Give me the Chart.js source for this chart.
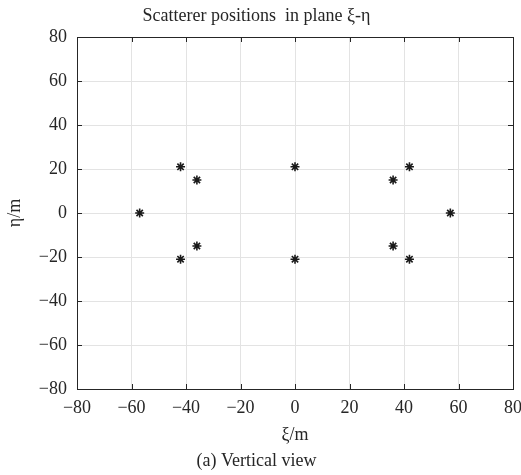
<!DOCTYPE html>
<html>
<head>
<meta charset="utf-8">
<script src="https://cdn.jsdelivr.net/npm/chart.js@4"></script>
<style>
  html, body { margin: 0; padding: 0; background: #fff; }
  #wrap { width: 521px; height: 475px; }
</style>
</head>
<body>
<div id="wrap"><canvas id="scatterChart" width="521" height="475"></canvas></div>
<script>
// Scatterer positions (metres)
const xiValues  = [-57, -42, -42, -36, -36, 0, 0, 36, 36, 42, 42, 57];
const etaValues = [0, 21, -21, 15, -15, 21, -21, 15, -15, 21, -21, 0];
const axisTicks = [-80, -60, -40, -20, 0, 20, 40, 60, 80];

const serif = "'Liberation Serif', 'Times New Roman', serif";
const axisColor = '#262626';

// box around plot area + inward tick marks (MATLAB style)
const boxPlugin = {
    id: 'boxPlugin',
    afterDraw(chart) {
        const {ctx, chartArea: a, scales} = chart;
        ctx.save();
        ctx.strokeStyle = axisColor;
        ctx.lineWidth = 1;
        ctx.beginPath();
        axisTicks.forEach(v => {
            const px = Math.round(scales.x.getPixelForValue(v)) + 0.5;
            const py = Math.round(scales.y.getPixelForValue(v)) + 0.5;
            ctx.moveTo(px, a.bottom); ctx.lineTo(px, a.bottom - 5);
            ctx.moveTo(px, a.top); ctx.lineTo(px, a.top + 5);
            ctx.moveTo(a.left, py); ctx.lineTo(a.left + 5, py);
            ctx.moveTo(a.right, py); ctx.lineTo(a.right - 5, py);
        });
        ctx.stroke();
        ctx.strokeRect(Math.round(a.left) + 0.5, Math.round(a.top) + 0.5,
            Math.round(a.right - a.left), Math.round(a.bottom - a.top));
        ctx.restore();
    }
};

const ctx = document.getElementById('scatterChart').getContext('2d');
const scatterChart = new Chart(ctx, {
    type: 'scatter',
    data: {
        datasets: [{
            label: 'Scatterers',
            data: xiValues.map((x, i) => ({x: x, y: etaValues[i]})),
            pointStyle: 'star',
            pointRadius: 4.5,
            pointHoverRadius: 4.5,
            borderColor: '#1a1a1a',
            backgroundColor: '#1a1a1a',
            pointBorderWidth: 1.6
        }]
    },
    options: {
        responsive: false,
        animation: false,
        layout: { padding: { left: 0, right: 8, top: 0, bottom: 0 } },
        plugins: {
            legend: { display: false },
            tooltip: { enabled: false },
            title: {
                display: true,
                text: 'Scatterer positions  in plane \u03be-\u03b7',
                color: '#262626',
                font: { family: serif, size: 18, weight: 'normal' },
                padding: { top: 5, bottom: 10.4 }
            },
            subtitle: {
                display: true,
                position: 'bottom',
                text: '(a) Vertical view',
                color: '#262626',
                font: { family: serif, size: 18, weight: 'normal' },
                padding: { top: 0, bottom: 3 }
            }
        },
        scales: {
            x: {
                type: 'linear',
                min: -80,
                max: 80,
                afterBuildTicks: s => { s.ticks = axisTicks.map(v => ({value: v})); },
                afterFit: s => { s.height = 61.4; s.paddingLeft = 0; s.paddingRight = 0; },
                ticks: {
                    color: '#262626',
                    padding: 8,
                    maxRotation: 0,
                    font: { family: serif, size: 18 },
                    callback: v => String(v).replace('-', '\u2212')
                },
                grid: { color: '#e3e3e3', drawTicks: false },
                border: { display: false },
                title: {
                    display: true,
                    text: '\u03be/m',
                    color: '#262626',
                    font: { family: serif, size: 18 },
                    padding: { top: 0, bottom: 4.6 }
                }
            },
            y: {
                type: 'linear',
                min: -80,
                max: 80,
                afterBuildTicks: s => { s.ticks = axisTicks.map(v => ({value: v})); },
                afterFit: s => { s.width = 77; s.paddingTop = 0; s.paddingBottom = 0; },
                ticks: {
                    color: '#262626',
                    padding: 10,
                    font: { family: serif, size: 18 },
                    callback: v => String(v).replace('-', '\u2212')
                },
                grid: { color: '#e3e3e3', drawTicks: false },
                border: { display: false },
                title: {
                    display: true,
                    text: '\u03b7/m',
                    color: '#262626',
                    font: { family: serif, size: 18 },
                    padding: { top: 4.2, bottom: 0 }
                }
            }
        }
    },
    plugins: [boxPlugin]
});
</script>
</body>
</html>
